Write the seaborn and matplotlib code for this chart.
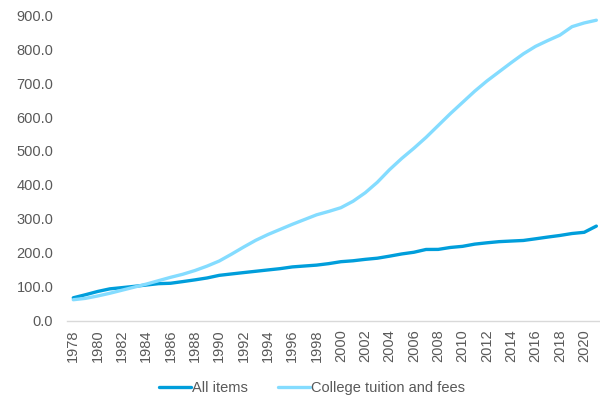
import numpy as np
import pandas as pd
import matplotlib
matplotlib.use("Agg")
import matplotlib.pyplot as plt
import seaborn as sns

years = list(range(1978, 2022))

all_items = [67.7, 76.7, 86.3, 94.0, 97.6, 101.3, 105.3, 109.3, 110.5, 115.4,
             120.5, 126.1, 133.8, 137.9, 141.9, 145.8, 149.7, 153.5, 158.6, 161.3,
             163.9, 168.3, 174.0, 176.7, 180.9, 184.3, 190.3, 196.8, 201.8, 210.0,
             210.2, 215.9, 219.2, 225.7, 229.6, 233.0, 234.8, 236.5, 241.4, 246.5,
             251.2, 257.0, 260.5, 278.8]

college_tuition = [62.0, 66.0, 73.0, 81.0, 90.0, 99.0, 108.0, 118.0, 128.0, 137.0,
                   148.0, 161.0, 176.0, 196.0, 217.0, 237.0, 254.0, 269.0, 284.0, 298.0,
                   312.0, 322.0, 333.0, 352.0, 377.0, 408.0, 445.0, 478.0, 508.0, 540.0,
                   575.0, 610.0, 643.0, 676.0, 706.0, 733.0, 760.0, 786.0, 808.0, 825.0,
                   841.0, 866.0, 877.0, 885.0]

series_names = ["All items", "College tuition and fees"]
series_colors = ["#009EDB", "#84DCFF"]

df = pd.concat([
    pd.DataFrame({"year": years, "value": all_items, "series": series_names[0]}),
    pd.DataFrame({"year": years, "value": college_tuition, "series": series_names[1]}),
])

sns.set_theme(style="white")
plt.rcParams["font.family"] = ["Liberation Sans", "DejaVu Sans"]

fig = plt.figure(figsize=(6.0, 3.98), dpi=100)
ax = fig.add_axes([0.112, 0.194, 0.888, 0.768])

sns.lineplot(data=df, x="year", y="value", hue="series",
             palette=dict(zip(series_names, series_colors)),
             linewidth=2.4, ax=ax, legend=False)

ax.set_xlim(1977.5, 2021.3)
ax.set_ylim(0, 900)
ax.set_yticks(np.arange(0, 901, 100))
ax.set_yticklabels([f"{v:.1f}" for v in np.arange(0, 901, 100)])
ax.set_xticks(years[::2])
ax.set_xticklabels([str(y) for y in years[::2]], rotation=90)

label_color = "#595959"
ax.tick_params(axis="y", length=0, pad=10, labelsize=10.5, labelcolor=label_color)
ax.tick_params(axis="x", length=0, pad=6, labelsize=10.5, labelcolor=label_color)
ax.set_xlabel("")
ax.set_ylabel("")

for side in ["top", "right", "left"]:
    ax.spines[side].set_visible(False)
ax.spines["bottom"].set_color("#D9D9D9")
ax.spines["bottom"].set_linewidth(1.0)
ax.grid(False)

handles = [plt.Line2D([0], [0], color=c, linewidth=2.4) for c in series_colors]
fig.legend(handles, series_names, loc="center", bbox_to_anchor=(0.52, 0.024),
           ncol=2, frameon=False, fontsize=10.5, handlelength=2.2,
           handletextpad=0.1, columnspacing=2.0, labelcolor=label_color)

fig.savefig("out.png", dpi=100)
